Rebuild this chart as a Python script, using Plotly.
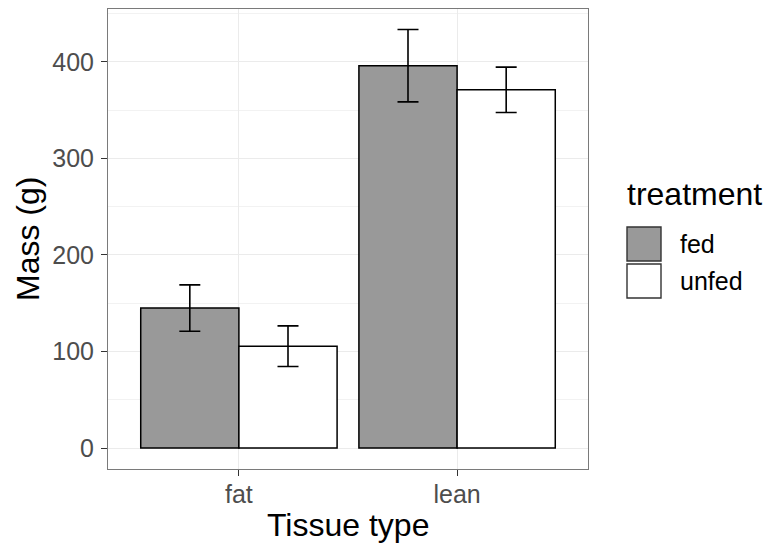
import plotly.graph_objects as go

# Tissue mass by treatment
tissues = ["fat", "lean"]
treatments = ["fed", "unfed"]
mean_fed = [145.0, 396.0]
mean_unfed = [105.5, 371.0]
err_fed = [24.0, 37.5]
err_unfed = [21.0, 23.5]
fills = {"fed": "#999999", "unfed": "#FFFFFF"}

means = {"fed": mean_fed, "unfed": mean_unfed}
errs = {"fed": err_fed, "unfed": err_unfed}

FONT = "Liberation Sans, Arial, sans-serif"
TICK_SIZE = 25
TITLE_SIZE = 32

# panel geometry in pixels (used to place the legend and titles)
W, H = 768, 545
L, R, T, B = 108, 180, 9, 76
PW, PH = W - L - R, H - T - B


def px_x(x):
    return (x - L) / PW


def px_y(y):
    return (H - B - y) / PH


fig = go.Figure()
for t in treatments:
    fig.add_trace(go.Bar(
        x=tissues, y=means[t], name=t,
        marker=dict(color=fills[t], line=dict(color="black", width=1.5)),
        error_y=dict(type="data", array=errs[t], visible=True,
                     color="black", thickness=1.6, width=10.5),
        showlegend=False,
    ))

# legend drawn as keys + labels to the right of the panel
shapes = []
annotations = [
    dict(x=px_x(625), y=px_y(194), xref="paper", yref="paper",
         text="treatment", showarrow=False, xanchor="left", yanchor="middle",
         font=dict(family=FONT, size=TITLE_SIZE, color="black")),
    dict(x=px_x(28), y=0.5, xref="paper", yref="paper", text="Mass (g)",
         textangle=-90, showarrow=False, xanchor="center", yanchor="middle",
         font=dict(family=FONT, size=TITLE_SIZE, color="black")),
    dict(x=0.5, y=px_y(525), xref="paper", yref="paper", text="Tissue type",
         showarrow=False, xanchor="center", yanchor="middle",
         font=dict(family=FONT, size=TITLE_SIZE, color="black")),
]
key_tops = [227, 264]
for t, top in zip(treatments, key_tops):
    shapes.append(dict(type="rect", xref="paper", yref="paper",
                       x0=px_x(627), x1=px_x(661), y0=px_y(top + 34), y1=px_y(top),
                       fillcolor=fills[t], line=dict(color="#333333", width=1.4)))
    annotations.append(dict(x=px_x(678), y=px_y(top + 17), xref="paper",
                            yref="paper", text=t, showarrow=False,
                            xanchor="left", yanchor="middle",
                            font=dict(family=FONT, size=TICK_SIZE, color="black")))

axis_common = dict(
    showgrid=True, gridcolor="#EBEBEB", gridwidth=1.2,
    showline=True, mirror=True, linecolor="#7a7a7a", linewidth=1,
    ticks="outside", ticklen=6, tickcolor="#333333", tickwidth=1,
    tickfont=dict(size=TICK_SIZE, color="#4D4D4D", family=FONT),
    zeroline=False, automargin=False,
)

fig.update_layout(
    template="none",
    width=W, height=H,
    margin=dict(l=L, r=R, t=T, b=B),
    paper_bgcolor="white", plot_bgcolor="white",
    barmode="group", bargap=0.1, bargroupgap=0,
    font=dict(family=FONT),
    shapes=shapes, annotations=annotations,
    xaxis=dict(type="category", range=[-0.6, 1.6], ticklabelstandoff=-3,
               **axis_common),
    yaxis=dict(
        range=[-21.65, 454.65],
        tickvals=[0, 100, 200, 300, 400],
        ticklabelstandoff=2,
        minor=dict(tickvals=[50, 150, 250, 350, 450], showgrid=True,
                   gridcolor="#F2F2F2", gridwidth=0.8),
        **axis_common,
    ),
)

fig.write_html("out.html")
